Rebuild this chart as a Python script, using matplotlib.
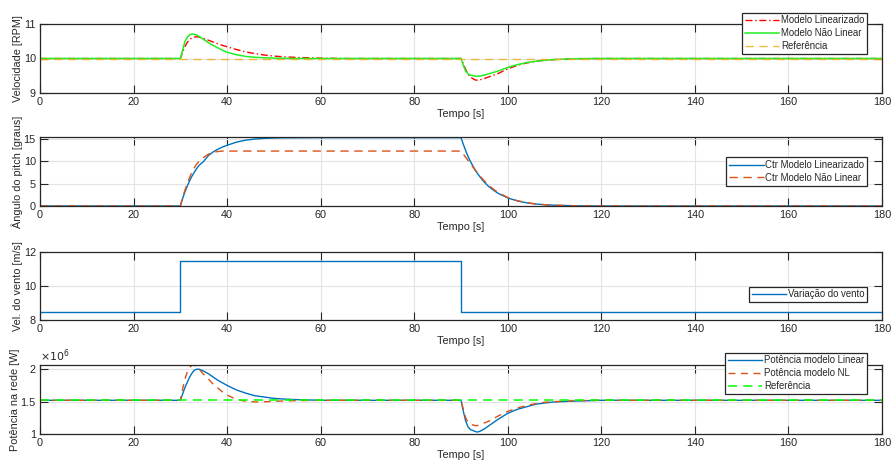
import matplotlib
matplotlib.use("Agg")
import matplotlib.pyplot as plt
from matplotlib.ticker import FuncFormatter

plt.rcParams['font.family'] = ['Liberation Sans', 'DejaVu Sans']

# ---- simulation samples (time in s) ----
t = [0, 30, 30.5, 31, 31.5, 32, 32.5, 33, 33.5, 34, 35, 36, 37, 38, 39, 40,
     42, 44, 46, 48, 50, 52, 55, 60, 65, 90, 90.5, 91, 91.5, 92, 93, 93.5,
     94, 95, 96, 97, 98, 100, 102, 104, 106, 108, 110, 115, 120, 180]

speed_lin = [10, 10, 10.18, 10.35, 10.47, 10.55, 10.6, 10.62, 10.63, 10.62,
             10.58, 10.53, 10.48, 10.43, 10.38, 10.34, 10.26, 10.19, 10.14,
             10.1, 10.07, 10.05, 10.03, 10.01, 10.0, 10.0, 9.85, 9.68, 9.55,
             9.46, 9.38, 9.37, 9.38, 9.42, 9.47, 9.52, 9.57, 9.7, 9.8, 9.87,
             9.92, 9.95, 9.97, 9.995, 10.0, 10.0]
speed_nl = [10, 10, 10.25, 10.5, 10.62, 10.69, 10.71, 10.70, 10.68, 10.64,
            10.55, 10.46, 10.38, 10.31, 10.24, 10.18, 10.11, 10.06, 10.035,
            10.02, 10.01, 10.005, 10.0, 10.0, 10.0, 10.0, 9.8, 9.63, 9.56,
            9.52, 9.49, 9.485, 9.49, 9.52, 9.56, 9.6, 9.64, 9.74, 9.82, 9.88,
            9.92, 9.95, 9.97, 9.995, 10.0, 10.0]

pitch_lin = [0, 0, 1.7, 3.2, 4.5, 5.7, 6.7, 7.6, 8.4, 9.1, 10.0, 11.3, 12.1,
             12.7, 13.2, 13.6, 14.3, 14.75, 15.0, 15.15, 15.22, 15.26, 15.28,
             15.3, 15.3, 15.3, 13.8, 12.4, 11.1, 10.0, 8.1, 7.3, 6.6, 5.3,
             4.3, 3.5, 2.8, 1.8, 1.15, 0.72, 0.45, 0.28, 0.17, 0.04, 0.0, 0.0]
pitch_nl = [0, 0, 1.9, 3.6, 5.1, 6.4, 7.6, 8.6, 9.4, 10.0, 10.9, 11.6, 12.0,
            12.2, 12.3, 12.3, 12.3, 12.3, 12.3, 12.3, 12.3, 12.3, 12.3, 12.3,
            12.3, 12.3, 11.6, 10.9, 10.2, 9.5, 8.1, 7.45, 6.8, 5.6, 4.6, 3.7,
            3.0, 1.9, 1.2, 0.75, 0.45, 0.28, 0.16, 0.04, 0.0, 0.0]

power_lin = [1.52e6, 1.52e6, 1.62e6, 1.72e6, 1.80e6, 1.88e6, 1.94e6, 1.985e6,
             2.0e6, 2.0e6, 1.97e6, 1.93e6, 1.88e6, 1.83e6, 1.79e6, 1.75e6,
             1.68e6, 1.63e6, 1.59e6, 1.57e6, 1.55e6, 1.54e6, 1.53e6, 1.52e6,
             1.52e6, 1.52e6, 1.35e6, 1.20e6, 1.11e6, 1.07e6, 1.04e6, 1.03e6,
             1.04e6, 1.08e6, 1.13e6, 1.18e6, 1.23e6, 1.32e6, 1.38e6, 1.42e6,
             1.46e6, 1.48e6, 1.495e6, 1.51e6, 1.52e6, 1.52e6]
power_nl = [1.52e6, 1.52e6, 1.70e6, 1.85e6, 1.96e6, 2.03e6, 2.06e6, 2.06e6,
            2.04e6, 2.0e6, 1.92e6, 1.85e6, 1.77e6, 1.71e6, 1.65e6, 1.60e6,
            1.535e6, 1.505e6, 1.495e6, 1.497e6, 1.505e6, 1.51e6, 1.515e6,
            1.52e6, 1.52e6, 1.52e6, 1.38e6, 1.25e6, 1.18e6, 1.15e6, 1.13e6,
            1.13e6, 1.135e6, 1.17e6, 1.2e6, 1.24e6, 1.28e6, 1.35e6, 1.4e6,
            1.44e6, 1.47e6, 1.49e6, 1.5e6, 1.515e6, 1.52e6, 1.52e6]

ref_t = [0, 180]
speed_ref = [10, 10]
power_ref = [1.52e6, 1.52e6]

wind_t = [0, 30, 90, 180]
wind = [8.5, 11.5, 8.5, 8.5]

xticks = list(range(0, 181, 20))

# ---- figure ----
W, H = 891, 466
fig = plt.figure(figsize=(W / 100, H / 100), dpi=100)

FS = 7.8
LFS = 6.9
TXT = '#262626'
BLUE = '#0072BD'
ORANGE = '#D95319'


def px_axes(top, bottom, left=40, right=882):
    return fig.add_axes([left / W, 1 - bottom / H, (right - left) / W, (bottom - top) / H])


def style(ax, ylim, yticks, ylabel):
    ax.set_xlim(0, 180)
    ax.set_ylim(*ylim)
    ax.set_xticks(xticks)
    ax.set_yticks(yticks)
    ax.grid(True, color='#e3e3e3', linewidth=0.8)
    ax.set_axisbelow(True)
    ax.tick_params(direction='in', length=6, width=0.8, colors=TXT,
                   labelsize=FS, top=True, right=True, pad=3)
    for s in ax.spines.values():
        s.set_color(TXT)
        s.set_linewidth(0.9)
    ax.set_xlabel('Tempo [s]', fontsize=FS, color=TXT, labelpad=1.5)
    ax.set_ylabel(ylabel, fontsize=FS, color=TXT, labelpad=0.5)


def legend(ax, right_px, top_px):
    leg = ax.legend(loc='upper right', bbox_to_anchor=(right_px / W, 1 - top_px / H),
                    bbox_transform=fig.transFigure, fontsize=LFS, frameon=True,
                    fancybox=False, framealpha=1, edgecolor=TXT, handlelength=3.6,
                    handletextpad=0.15, borderpad=0.3, labelspacing=0.3,
                    borderaxespad=0)
    leg.get_frame().set_linewidth(0.9)
    for txt in leg.get_texts():
        txt.set_color(TXT)
    return leg


# Rotor speed
ax1 = px_axes(24, 93)
ax1.plot(t, speed_lin, color='#FF0000', linestyle='-.', linewidth=1.0,
         dashes=(5, 2, 1, 2), label='Modelo Linearizado')
ax1.plot(t, speed_nl, color='#22EE22', linewidth=1.1, label='Modelo Não Linear')
ax1.plot(ref_t, speed_ref, color='#EDB120', linestyle='--', linewidth=1.0,
         dashes=(6, 4), alpha=0.85, label='Referência')
style(ax1, (9, 11), [9, 10, 11], 'Velocidade [RPM]')
legend(ax1, 867, 12.5)

# Pitch angle
ax2 = px_axes(137, 206)
ax2.plot(t, pitch_lin, color=BLUE, linewidth=1.0, label='Ctr Modelo Linearizado')
ax2.plot(t, pitch_nl, color=ORANGE, linestyle='--', dashes=(6, 4), linewidth=1.0,
         label='Ctr Modelo Não Linear')
style(ax2, (0, 15.45), [0, 5, 10, 15], 'Ângulo do pitch [graus]')
legend(ax2, 867, 157)

# Wind speed
ax3 = px_axes(252, 320)
ax3.step(wind_t, wind, where='post', color=BLUE, linewidth=1.0,
         label='Variação do vento')
style(ax3, (8, 12), [8, 10, 12], 'Vel. do vento [m/s]')
legend(ax3, 867, 286.5)

# Grid power
ax4 = px_axes(365, 434)
ax4.plot(t, power_lin, color=BLUE, linewidth=1.0, label='Potência modelo Linear')
ax4.plot(t, power_nl, color=ORANGE, linestyle='--', dashes=(5, 4), linewidth=1.0,
         label='Potência modelo NL')
ax4.plot(ref_t, power_ref, color='#00FF00', linestyle='--', dashes=(6, 4),
         linewidth=1.1, label='Referência')
style(ax4, (1e6, 2.065e6), [1e6, 1.5e6, 2e6], 'Potência na rede [W]')
ax4.yaxis.set_major_formatter(FuncFormatter(lambda v, p: f'{v / 1e6:g}'))
ax4.text(0.0, 1.015, r'$\times10^{6}$', transform=ax4.transAxes, fontsize=FS,
         color=TXT, ha='left', va='bottom')
legend(ax4, 867, 352.5)

fig.savefig('out.png', dpi=100)
